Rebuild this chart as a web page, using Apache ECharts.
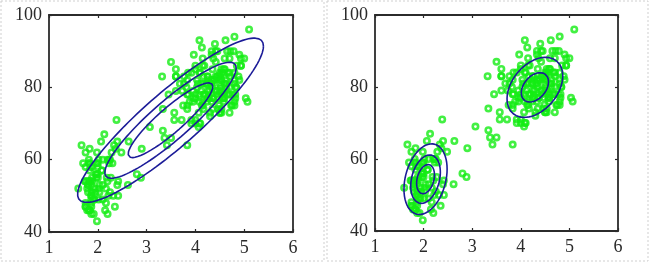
<!DOCTYPE html>
<html><head><meta charset="utf-8">
<script src="https://cdn.jsdelivr.net/npm/echarts@6/dist/echarts.min.js"></script>
<style>html,body{margin:0;padding:0;background:#fff}#c{width:650px;height:265px}</style>
</head><body><div id="c"></div>
<script>
// Old Faithful: eruption duration (min) and waiting time (min)
const eruptions = [3.600,1.800,3.333,2.283,4.533,2.883,4.700,3.600,1.950,4.350,
1.833,3.917,4.200,1.750,4.700,2.167,1.750,4.800,1.600,4.250,
1.800,1.750,3.450,3.067,4.533,3.600,1.967,4.083,3.850,4.433,
4.300,4.467,3.367,4.033,3.833,2.017,1.867,4.833,1.833,4.783,
4.350,1.883,4.567,1.750,4.533,3.317,3.833,2.100,4.633,2.000,
4.800,4.716,1.833,4.833,1.733,4.883,3.717,1.667,4.567,4.317,
2.233,4.500,1.750,4.800,1.817,4.400,4.167,4.700,2.067,4.700,
4.033,1.967,4.500,4.000,1.983,5.067,2.017,4.567,3.883,3.600,
4.133,4.333,4.100,2.633,4.067,4.933,3.950,4.517,2.167,4.000,
2.200,4.333,1.867,4.817,1.833,4.300,4.667,3.750,1.867,4.900,
2.483,4.367,2.100,4.500,4.050,1.867,4.700,1.783,4.850,3.683,
4.733,2.300,4.900,4.417,1.700,4.633,2.317,4.600,1.817,4.417,
2.617,4.067,4.250,1.967,4.600,3.767,1.917,4.500,2.267,4.650,
1.867,4.167,2.800,4.333,1.833,4.383,1.883,4.933,2.033,3.733,
4.233,2.233,4.533,4.817,4.333,1.983,4.633,2.017,5.100,1.800,
5.033,4.000,2.400,4.600,3.567,4.000,4.500,4.083,1.800,3.967,
2.200,4.150,2.000,3.833,3.500,4.583,2.367,5.000,1.933,4.617,
1.917,2.083,4.583,3.333,4.167,4.333,4.500,2.417,4.000,4.167,
1.883,4.583,4.250,3.767,2.033,4.433,4.083,1.833,4.417,2.183,
4.800,1.833,4.800,4.100,3.966,4.233,3.500,4.366,2.250,4.667,
2.100,4.350,4.133,1.867,4.600,1.783,4.367,3.850,1.933,4.500,
2.383,4.700,1.867,3.833,3.417,4.233,2.400,4.800,2.000,4.150,
1.867,4.267,1.750,4.483,4.000,4.117,4.083,4.267,3.917,4.550,
4.083,2.417,4.183,2.217,4.450,1.883,1.850,4.283,3.950,2.333,
4.150,2.350,4.933,2.900,4.583,3.833,2.083,4.367,2.133,4.350,
2.200,4.450,3.567,4.500,4.150,3.817,3.917,4.450,2.000,4.283,
4.767,4.533,1.850,4.250,1.983,2.250,4.750,4.117,2.150,4.417,
1.817,4.467];
const waiting = [79,54,74,62,85,55,88,85,51,85,
54,84,78,47,83,52,62,84,52,79,
51,47,78,69,74,83,55,76,78,79,
73,77,66,80,74,52,48,80,59,90,
80,58,84,58,73,83,64,53,82,59,
75,90,54,80,54,83,71,64,77,81,
59,84,48,82,60,92,78,78,65,73,
82,56,79,71,62,76,60,78,76,83,
75,82,70,65,73,88,76,80,48,86,
60,90,50,78,63,72,84,75,51,82,
62,88,49,83,81,47,84,52,86,81,
75,59,89,79,59,81,50,85,59,87,
53,69,77,56,88,81,45,82,55,90,
45,83,56,89,46,82,51,86,53,79,
81,60,82,77,76,59,80,49,96,53,
77,77,65,81,71,70,81,93,53,89,
45,86,58,78,66,76,63,88,52,93,
49,57,77,68,81,81,73,50,85,74,
55,77,83,83,51,78,84,46,83,55,
81,57,76,84,77,81,87,77,51,78,
60,82,91,53,78,46,77,84,49,83,
71,80,49,75,64,76,53,94,55,76,
50,82,54,75,78,79,78,78,70,79,
70,54,86,50,90,54,54,77,79,64,
75,47,86,63,85,82,57,82,67,74,
54,83,73,73,88,80,71,83,56,79,
78,84,58,83,43,60,75,81,46,90,
46,74];

// Axis ticks
const xTicks = [1,2,3,4,5,6];
const yTicks = [40,60,80,100];

// Gaussian contour definitions: [meanX, meanY, varX, covXY, varY]
const singleGaussian = [3.49, 70.9, 1.30, 13.98, 184.8];
const singleLevels = [0.76, 1.18, 1.67];          // Mahalanobis radii
const mixShort = [2.04, 54.4, 0.069, 0.435, 33.7];
const mixShortLevels = [0.70, 1.16, 1.69];
const mixLong = [4.29, 79.9, 0.170, 0.94, 36.0];
const mixLongLevels = [0.68, 1.39];

function contour(g, k) {
  const [mx, my, sxx, sxy, syy] = g;
  const l11 = Math.sqrt(sxx), l21 = sxy / l11, l22 = Math.sqrt(syy - l21 * l21);
  const pts = [];
  for (let i = 0; i <= 120; i++) {
    const t = 2 * Math.PI * i / 120, a = Math.cos(t), b = Math.sin(t);
    pts.push([mx + k * l11 * a, my + k * (l21 * a + l22 * b)]);
  }
  return pts;
}

const points = eruptions.map((e, i) => [e, waiting[i]]);
const font = {fontFamily: 'Liberation Serif', fontSize: 18, color: '#2a2a2a'};
const lineCol = '#2b2b2b';
const ellCol = '#1c1c98';
const ptCol = '#14ec14';

function xAxes(gi) {
  return [
    {gridIndex: gi, type: 'value', min: 1, max: 6, interval: 1, position: 'bottom',
     axisLine: {show: true, onZero: false, lineStyle: {color: lineCol, width: 1.8}},
     axisTick: {show: true, inside: true, length: 3, lineStyle: {color: lineCol, width: 1.2}},
     axisLabel: Object.assign({margin: 7, formatter: v => xTicks.includes(v) ? String(v) : ''}, font),
     splitLine: {show: false}},
    {gridIndex: gi, type: 'value', min: 1, max: 6, interval: 1, position: 'top',
     axisLine: {show: true, onZero: false, lineStyle: {color: lineCol, width: 1.8}},
     axisTick: {show: true, inside: true, length: 3, lineStyle: {color: lineCol, width: 1.2}},
     axisLabel: {show: false}, splitLine: {show: false}}
  ];
}
function yAxes(gi) {
  return [
    {gridIndex: gi, type: 'value', min: 40, max: 100, interval: 20, position: 'left',
     axisLine: {show: true, onZero: false, lineStyle: {color: lineCol, width: 1.8}},
     axisTick: {show: true, inside: true, length: 3, lineStyle: {color: lineCol, width: 1.2}},
     axisLabel: Object.assign({margin: 7, formatter: v => yTicks.includes(v) ? String(v) : ''}, font),
     splitLine: {show: false}},
    {gridIndex: gi, type: 'value', min: 40, max: 100, interval: 20, position: 'right',
     axisLine: {show: true, onZero: false, lineStyle: {color: lineCol, width: 1.8}},
     axisTick: {show: true, inside: true, length: 3, lineStyle: {color: lineCol, width: 1.2}},
     axisLabel: {show: false}, splitLine: {show: false}}
  ];
}

function scatter(xi, yi) {
  return {type: 'scatter', xAxisIndex: xi, yAxisIndex: yi, data: points,
    symbol: 'circle', symbolSize: 5.4, silent: true,
    itemStyle: {color: 'rgba(255,255,255,0)', borderColor: ptCol, borderWidth: 2.6}, z: 2};
}
function ell(xi, yi, g, k) {
  return {type: 'line', xAxisIndex: xi, yAxisIndex: yi, data: contour(g, k),
    showSymbol: false, silent: true, lineStyle: {color: ellCol, width: 1.6}, z: 3};
}

const series = [scatter(0, 0), scatter(2, 2)];
singleLevels.forEach(k => series.push(ell(0, 0, singleGaussian, k)));
mixShortLevels.forEach(k => series.push(ell(2, 2, mixShort, k)));
mixLongLevels.forEach(k => series.push(ell(2, 2, mixLong, k)));

const chart = echarts.init(document.getElementById('c'), null, {renderer: 'canvas'});
chart.setOption({
  animation: false,
  backgroundColor: '#fff',
  grid: [
    {left: 49, top: 15, width: 244, height: 217},
    {left: 375, top: 15, width: 243, height: 216}
  ],
  xAxis: [...xAxes(0), ...xAxes(1)],
  yAxis: [...yAxes(0), ...yAxes(1)],
  series: series,
  graphic: [
    {type: 'rect', shape: {x: 1, y: 1, width: 323, height: 260}, silent: true,
     style: {fill: 'none', stroke: '#cfcfcf', lineWidth: 1, lineDash: [2, 2]}},
    {type: 'rect', shape: {x: 327, y: 1, width: 321, height: 260}, silent: true,
     style: {fill: 'none', stroke: '#cfcfcf', lineWidth: 1, lineDash: [2, 2]}}
  ]
});
</script></body></html>
